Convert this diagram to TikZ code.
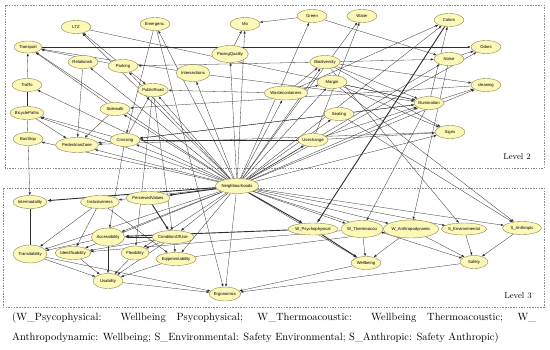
\documentclass[tikz,border=0pt]{standalone}
\usepackage{fontspec}
\newfontfamily\lab{Liberation Sans}
\usepackage{tikz}
\usetikzlibrary{shapes.geometric, arrows.meta, backgrounds}
\definecolor{varfill}{RGB}{252,248,184}
\definecolor{varedge}{RGB}{140,130,75}
\definecolor{linkcol}{RGB}{45,45,45}
\definecolor{framecol}{RGB}{140,140,140}
\tikzset{
  var/.style={ellipse, draw=varedge, fill=varfill, inner sep=0pt,
    minimum width=30pt, minimum height=13pt,
    font=\lab\fontsize{4.2}{5}\selectfont, line width=0.4pt},
  dep/.style={-{Latex[length=3pt,width=2.2pt]}, line width=0.3pt, color=linkcol},
  strongdep/.style={-{Latex[length=4pt,width=3pt]}, line width=0.9pt, color=linkcol},
  link/.style={line width=0.3pt, color=linkcol},
  frame/.style={draw=framecol, dash pattern=on 1.5pt off 1.2pt, line width=0.5pt}
}

\begin{document}
\begin{tikzpicture}[x=1pt, y=-1pt]
  \useasboundingbox (0,0) rectangle (550,349);

  % Level 2 variables
  \node[var] (ltz) at (76,27) {LTZ};
  \node[var] (emerg) at (155,24) {Emergenc.};
  \node[var] (mo) at (245,24) {Mo};
  \node[var] (green) at (312,16) {Green};
  \node[var] (water) at (362,16) {Water};
  \node[var] (colors) at (449,20) {Colors};
  \node[var, minimum width=28pt, minimum height=12pt] (transport) at (28,47) {Transport};
  \node[var] (odors) at (486,47) {Odors};
  \node[var, minimum width=34pt, minimum height=17pt] (paving) at (230,54) {PavingQuality};
  \node[var] (noise) at (449,59) {Noise};
  \node[var] (relat) at (83,62) {Relationsh.};
  \node[var] (parking) at (123,66) {Parking};
  \node[var] (biodiv) at (325,62) {Biodiversity};
  \node[var, minimum width=33pt, minimum height=17pt] (inters) at (193,73) {Intersections};
  \node[var] (margin) at (332,82) {Margin};
  \node[var] (traffic) at (27,85) {Traffic};
  \node[var] (cleaning) at (486,85) {cleaning};
  \node[var] (pubroad) at (153,90) {PublicRoad};
  \node[var, minimum width=39pt, minimum height=14pt] (waste) at (286,93) {Wastecontainers};
  \node[var] (illum) at (429,103) {Illumination};
  \node[var] (sidewalk) at (115,109) {Sidewalk};
  \node[var] (bicycle) at (27,113) {BicyclePaths};
  \node[var] (seating) at (339,114) {Seating};
  \node[var] (signs) at (450,132) {Signs};
  \node[var] (busstop) at (28,139) {BusStop};
  \node[var, minimum width=43pt, minimum height=15pt] (pedzone) at (77,145) {PedestrianZone};
  \node[var] (crossing) at (125,140) {Crossing};
  \node[var] (usechange) at (313,140) {Usechange};

  % Level 3 variables
  \node[var, minimum width=38pt, minimum height=15pt] (neigh) at (237,186) {Neighbourhoods};
  \node[var, minimum width=34pt] (intermod) at (30,202) {Intermodality};
  \node[var, minimum width=39pt] (inclus) at (100,202) {Inclusiveness};
  \node[var, minimum width=43pt] (perceived) at (148,198) {PerceivedValues};
  \node[var, minimum width=33pt, minimum height=18pt] (access) at (108,237) {Accessibility};
  \node[var, minimum width=42pt] (condit) at (173,237) {ConditionOfUse};
  \node[var, minimum width=34pt, minimum height=18pt] (transit) at (30,254) {Transitability};
  \node[var, minimum width=33pt] (ident) at (73,253) {Identificability};
  \node[var, minimum width=28pt, minimum height=14pt] (flex) at (135,253) {Flexibility};
  \node[var, minimum width=38pt] (eqip) at (176,259) {Eqipmentability};
  \node[var, minimum height=15pt] (usab) at (108,281) {Usability};
  \node[var, minimum height=14pt] (ergon) at (225,294) {Ergonomics};
  \node[var, minimum width=44pt, minimum height=12pt] (wpsycho) at (313,229) {W\_Psychophysical};
  \node[var, minimum width=38pt, minimum height=17pt] (wthermo) at (362,229) {W\_Thermoacou};
  \node[var, minimum width=48pt, minimum height=18pt] (wanthro) at (411,229) {W\_Anthropodynamic};
  \node[var, minimum width=44pt, minimum height=12pt] (senv) at (464,229) {S\_Environmental};
  \node[var, minimum width=39pt] (santh) at (522,228) {S\_Anthropic};
  \node[var] (wellb) at (366,263) {Wellbeing};
  \node[var, minimum width=28pt] (safety) at (474,262) {Safety};

  % Level labels and legend
  \node[font=\fontsize{8.5}{10}\selectfont] (lev2) at (517,157) {Level 2};
  \node[font=\fontsize{8.5}{10}\selectfont] (lev3) at (518,296) {Level 3};
  \node[anchor=west, inner sep=0pt, font=\fontsize{10.5}{12}\selectfont] (cap1) at (12,318)
    {\makebox[524pt][s]{(W\_Psycophysical: Wellbeing Psycophysical; W\_Thermoacoustic: Wellbeing Thermoacoustic; W\_}};
  \node[anchor=west, inner sep=0pt, font=\fontsize{10.5}{12}\selectfont] (cap2) at (12,338)
    {Anthropodynamic: Wellbeing; S\_Environmental: Safety Environmental; S\_Anthropic: Safety Anthropic)};

  \begin{scope}[on background layer]
    % Level frames
    \draw[frame] (5,5) rectangle (544,168);
    \draw[frame] (3,188) rectangle (544,307);

    % Neighbourhoods to all
    \foreach \t in {emerg, mo, paving, inters, pubroad, sidewalk, crossing, pedzone, busstop,
      traffic, relat, parking, bicycle, transport, ltz, waste, biodiv, margin, seating,
      usechange, illum, signs, cleaning, noise, colors, odors, green, water, inclus, access,
      condit, eqip, ergon, flex, wthermo, wanthro, senv, santh, wellb, safety, ident, transit}
      \draw[dep] (neigh) -- (\t);
    \foreach \t in {intermod, perceived, wpsycho}
      \draw[strongdep] (neigh) -- (\t);

    % Level 2 links
    \foreach \a/\b in {traffic/transport, bicycle/pedzone, crossing/bicycle, crossing/pedzone,
      relat/pedzone, parking/ltz, parking/transport, sidewalk/transport, sidewalk/pedzone,
      parking/pubroad, inters/transport, transport/odors, ltz/illum, emerg/crossing,
      crossing/pubroad, waste/pubroad, paving/mo, green/mo, green/noise, usechange/water,
      biodiv/cleaning, biodiv/illum, biodiv/signs, biodiv/noise, margin/illum, margin/signs,
      illum/cleaning, illum/colors, seating/illum, usechange/illum, usechange/signs,
      waste/margin, waste/biodiv, waste/colors, inters/illum, noise/odors, biodiv/parking,
      illum/crossing, signs/pedzone, cleaning/sidewalk, usechange/crossing, seating/crossing}
      \draw[dep] (\a) -- (\b);
    \draw[link] (bicycle) -- (traffic);
    \draw[link] (busstop) -- (bicycle);

    % Level 2 to Level 3
    \foreach \a/\b in {noise/wanthro, illum/wthermo, biodiv/senv, seating/santh, margin/santh,
      busstop/intermod, crossing/access, emerg/ergon, pubroad/condit, pubroad/flex}
      \draw[dep] (\a) -- (\b);
    \draw[strongdep] (colors) -- (wpsycho);

    % Level 3 links
    \draw[link] (intermod) -- (transit);
    \foreach \a/\b in {inclus/ident, inclus/transit, inclus/eqip, condit/ident, condit/flex,
      condit/usab, condit/eqip, access/usab, access/transit, transit/usab, transit/ergon,
      ident/usab, flex/usab, eqip/usab, usab/ergon, wthermo/wellb, wanthro/wellb,
      wanthro/safety, senv/safety, santh/safety, wellb/ergon, safety/ergon, wthermo/ident,
      eqip/wanthro}
      \draw[dep] (\a) -- (\b);
    \foreach \a/\b in {perceived/condit, condit/access, wpsycho/access, wpsycho/wellb}
      \draw[strongdep] (\a) -- (\b);
  \end{scope}
\end{tikzpicture}
\end{document}
